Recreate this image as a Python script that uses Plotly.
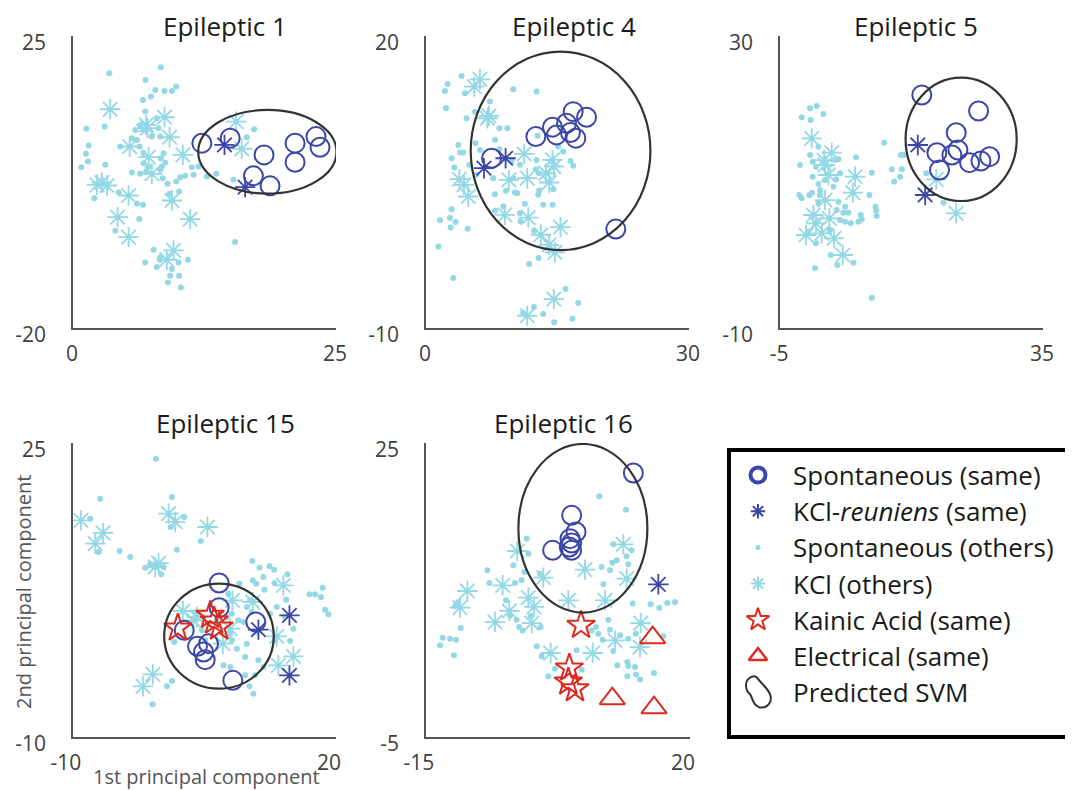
import plotly.graph_objects as go

# page body has an 8px margin; lay out in screen pixels and convert
BODY = 8
SW, SH = 1073, 790
FW, FH = SW - BODY, SH - BODY
FONT = "Open Sans"
DARK = "#3C46A9"
LIGHT = "#94D8E6"
RED = "#DC2A1F"
ELL = "#333333"


def px(x):
    return (x - BODY) / FW


def py(y):
    return 1 - (y - BODY) / FH


titles = ["Epileptic 1", "Epileptic 4", "Epileptic 5", "Epileptic 15", "Epileptic 16"]
x_ranges = [[0, 25], [0, 30], [-5, 35], [-10, 20], [-15, 20]]
y_ranges = [[-20, 25], [-10, 20], [-10, 30], [-10, 25], [-5, 25]]
# SVM ellipses: x0, x1, y0, y1
svm_ellipses = [
    [11.9, 25.05, 0.7, 13.6],
    [5.1, 25.6, -2.0, 18.4],
    [14.1, 31.0, 7.4, 24.3],
    [0.4, 12.9, -4.25, 8.25],
    [-2.75, 14.35, 7.7, 24.9],
]

# ---------------- Epileptic 1 ----------------
p1_spont_same_x = [12.25, 14.94, 18.16, 21.11, 21.11, 23.10, 23.48, 17.15, 18.73]
p1_spont_same_y = [8.48, 9.25, 6.68, 8.48, 5.55, 9.50, 7.86, 3.45, 1.91]
p1_kcl_same_x = [14.4, 16.36]
p1_kcl_same_y = [8.22, 1.71]
p1_kcl_oth_x = [3.54, 8.70, 6.96, 7.09, 9.18, 5.38, 7.18, 10.44, 7.50, 16.04, 15.51, 2.28, 3.23, 2.75,
                5.28, 9.40, 4.24, 11.14, 5.28, 9.56, 8.92]
p1_kcl_oth_y = [13.71, 12.48, 11.30, 10.79, 9.40, 7.97, 6.32, 6.68, 3.76, 7.61, 11.81, 2.07, 1.96, 2.42,
                0.42, -0.35, -2.91, -3.22, -5.99, -8.04, -9.48]
p1_spont_oth_x = [3.45, 8.35, 6.90, 7.82, 8.70, 9.40, 9.81, 6.65, 7.41, 1.27, 3.01, 6.87, 7.97, 6.39, 6.71,
                  8.13, 8.29, 7.50, 6.08, 5.60, 1.49, 1.23, 1.42, 0.79, 3.07, 6.33, 6.71, 8.61, 8.35, 6.71,
                  8.77, 8.45, 5.60, 6.39, 6.96, 7.18, 8.29, 8.54, 8.99, 9.81, 10.19, 10.66, 11.46, 11.30,
                  11.93, 12.72, 13.61, 15.25, 16.52, 17.22, 2.03, 4.34, 6.08, 6.65, 6.30, 4.02, 9.18, 10.09,
                  15.41, 7.66, 6.87, 8.29, 7.97, 8.29, 10.03, 10.92, 9.40, 9.24, 10.09, 9.02, 10.25, 4.49, 5.92]
p1_spont_oth_y = [19.25, 20.18, 18.23, 16.69, 16.53, 16.53, 17.20, 15.15, 15.66, 10.69, 11.04, 13.35, 12.33,
                  11.30, 10.53, 10.79, 9.50, 9.50, 8.99, 9.25, 8.12, 6.84, 5.66, 4.78, 5.14, 7.97, 6.94, 6.94,
                  6.17, 5.40, 5.50, 4.89, 3.96, 3.76, 4.12, 4.89, 4.37, 3.09, 2.22, 2.58, 3.25, 3.45, 3.60,
                  4.78, 4.89, 3.35, 3.76, 2.84, 9.40, 10.63, 0.01, 0.89, -0.86, -1.01, -3.22, -5.02, 0.68,
                  1.04, -6.76, -7.94, -9.89, -9.12, -10.61, -9.48, -9.89, -9.48, -10.92, -11.94, -11.94,
                  -12.97, -13.74, 7.97, 10.53]

# ---------------- Epileptic 4 ----------------
p2_spont_same_x = [12.53, 14.43, 14.89, 16.03, 16.79, 18.31, 16.48, 17.09, 7.48, 21.65]
p2_spont_same_y = [9.67, 10.63, 9.84, 11.04, 12.23, 11.65, 10.08, 9.50, 7.44, 0.16]
p2_kcl_same_x = [6.61, 9.08]
p2_kcl_same_y = [6.42, 7.44]
p2_kcl_oth_x = [6.15, 5.51, 7.18, 7.0, 11.20, 14.43, 14.58, 3.80, 4.33, 4.82, 9.46, 11.55, 13.67, 14.05,
                9.0, 11.66, 15.34, 13.10, 14.05, 14.70, 14.58, 11.55]
p2_kcl_oth_y = [15.55, 14.80, 11.79, 11.55, 7.89, 7.27, 6.59, 5.29, 4.71, 3.51, 5.22, 5.39, 5.90, 4.95,
                1.63, 1.35, 0.36, -0.42, -1.45, -2.24, -7.03, -8.74]
p2_spont_oth_x = [4.06, 2.47, 2.16, 4.44, 9.95, 12.61, 2.28, 4.63, 7.29, 5.58, 8.36, 9.27, 7.86, 5.66, 6.15,
                  3.68, 3.87, 4.25, 2.92, 3.23, 4.94, 8.36, 9.76, 10.71, 12.72, 12.61, 12.53, 12.91, 15.65,
                  15.08, 16.48, 16.79, 5.70, 7.67, 9.95, 10.14, 9.12, 7.86, 10.41, 12.80, 12.91, 13.37, 14.43,
                  14.51, 7.86, 8.81, 10.71, 11.28, 10.79, 12.34, 2.92, 1.60, 2.73, 3.38, 2.81, 4.75, 1.41,
                  3.11, 11.77, 12.84, 15.91, 17.36, 16.71, 14.62, 13.37, 12.31, 11.09]
p2_spont_oth_y = [15.89, 15.07, 14.36, 14.12, 14.53, 14.29, 12.58, 11.55, 13.26, 12.23, 10.52, 10.52, 9.33,
                  8.98, 8.30, 8.81, 8.03, 8.03, 7.44, 6.49, 6.76, 8.37, 7.10, 6.76, 9.74, 7.27, 6.32, 5.90,
                  8.13, 8.64, 7.17, 6.66, 5.73, 5.39, 5.39, 3.92, 4.09, 3.75, 3.85, 3.68, 4.13, 2.65, 2.65,
                  4.26, 2.04, 2.48, 1.80, 2.76, 0.94, -0.01, 2.21, 1.08, 1.29, 0.88, 0.33, 0.19, -1.62, -4.87,
                  -3.43, -2.82, -6.0, -7.44, -9.05, -9.42, -8.57, -7.85, -8.46]

# ---------------- Epileptic 5 ----------------
p3_spont_same_x = [16.57, 25.20, 21.80, 18.86, 21.14, 22.06, 23.83, 25.56, 26.88, 19.26]
p3_spont_same_y = [21.92, 19.73, 16.76, 14.02, 13.70, 14.38, 12.65, 12.88, 13.47, 11.64]
p3_kcl_same_x = [15.96, 17.08]
p3_kcl_same_y = [15.07, 8.22]
p3_kcl_oth_x = [-0.18, 2.87, 1.70, 1.85, 2.36, 6.42, 6.07, 1.85, 0.08, 2.51, 0.48, -1.04, 1.35, 3.22, 4.54,
                18.76, 21.80]
p3_kcl_oth_y = [15.98, 14.02, 13.01, 12.33, 10.96, 10.73, 8.54, 7.53, 5.48, 5.02, 4.34, 2.74, 2.97, 2.28, 0.0,
                10.37, 5.71]
p3_spont_oth_x = [-0.43, 0.58, -1.70, -0.33, 1.60, 0.84, -0.43, -1.95, -0.03, 0.48, 3.38, 3.88, 6.57, -0.03,
                  0.84, 4.14, 3.53, -2.06, -1.70, -0.53, -0.13, 1.09, 1.09, 3.88, 4.90, 5.41, 4.64, 4.14, 4.90,
                  5.76, 7.28, 6.93, 7.44, 8.60, 9.52, 9.62, 9.72, 8.96, 10.84, 12.01, 13.27, 13.53, 12.36,
                  13.38, 13.78, 17.23, 19.87, 0.33, 3.73, 6.17, 2.72, 8.96, 3.63, 0.48, -0.69, 2.61, 0.84,
                  3.12, 1.85]
p3_spont_oth_y = [20.09, 20.41, 18.86, 18.49, 19.32, 14.84, 13.70, 12.33, 12.79, 12.10, 13.01, 13.11, 13.38,
                  10.73, 9.73, 11.19, 10.37, 8.22, 7.76, 8.22, 8.54, 8.90, 8.22, 7.31, 6.62, 5.80, 5.80, 4.79,
                  4.57, 4.34, 5.48, 4.57, 4.89, 8.22, 6.62, 6.07, 5.34, 11.28, 15.39, 11.74, 10.73, 11.74,
                  10.05, 13.70, 13.70, 11.19, 7.17, -1.83, -1.37, -1.05, 0.0, -5.84, 6.16, 1.60, 3.20, 3.42,
                  7.08, 9.36, 10.27]

# ---------------- Epileptic 15 ----------------
p4_spont_same_x = [6.67, 6.67, 10.85, 2.69, 4.20, 5.46, 5.08, 8.23, 4.89]
p4_spont_same_y = [8.33, 5.40, 3.69, 2.70, 0.79, 1.11, -0.79, -3.25, 0.12]
p4_kcl_same_x = [14.69, 11.15, 14.69]
p4_kcl_same_y = [4.48, 2.78, -2.66]
p4_kainic_x = [1.96, 5.65, 6.67, 6.1]
p4_kainic_y = [2.98, 4.48, 3.10, 3.8]
p4_kcl_oth_x = [-9.09, -6.58, -7.46, 0.90, 1.66, 5.34, -0.24, -0.62, 14.0, 8.19, 2.53, 4.13, 10.51, 13.24,
                7.09, 15.14, 13.43, -0.89, -2.02, 7.93, 3.75]
p4_kcl_oth_y = [15.79, 14.29, 13.02, 16.59, 15.60, 15.0, 10.71, 10.24, 8.06, 6.27, 5.0, 4.29, 6.07, 1.98,
                1.11, -0.40, -1.47, -2.54, -3.97, 2.90, 3.89]
p4_spont_oth_x = [-0.54, -6.89, 1.28, -8.03, -7.08, -4.68, -3.47, -1.76, -1.19, 0.06, 0.33, 1.85, 2.69, 1.17,
                  4.58, 10.47, 11.27, 12.41, 12.94, 10.51, 10.89, 11.72, 12.98, 14.46, 11.84, 8.99, 16.97,
                  17.61, 18.48, 18.29, 18.75, 19.13, 14.31, 13.24, 15.14, 14.76, 14.19, 13.05, 9.83, 10.39,
                  9.45, 8.88, 7.74, 8.12, 7.93, 7.55, 4.70, 1.55, 3.94, 5.08, 8.69, 9.64, 10.96, 9.83, 11.15,
                  11.72, 9.64, 10.77, 10.13, 10.58, 7.17, 7.93, 0.71, 1.28, -0.92, 8.12, 6.41, 10.20, 12.48]
p4_spont_oth_y = [23.13, 18.37, 18.57, 15.99, 12.02, 12.14, 11.43, 10.16, 10.56, 9.37, 10.24, 12.30, 16.19,
                  15.0, 13.33, 10.95, 10.16, 10.32, 9.92, 8.65, 8.25, 9.05, 8.33, 9.37, 7.54, 8.25, 6.98, 6.98,
                  7.78, 6.67, 5.16, 4.60, 6.35, 5.48, 2.90, 1.43, 4.29, 1.51, 5.48, 4.88, 3.69, 3.89, 7.06,
                  4.68, 2.30, 4.29, 2.70, 1.31, 4.88, 1.51, 0.52, -0.48, 2.50, 1.11, -0.87, -1.67, -2.66,
                  -2.66, -3.97, -4.84, -1.47, -1.67, -3.97, -3.33, -6.11, 1.51, 3.89, 6.27, 4.68]

# ---------------- Epileptic 16 ----------------
p5_spont_same_x = [12.49, 4.31, 4.89, 4.09, 4.31, 4.0, 4.31, 1.79]
p5_spont_same_y = [21.94, 17.62, 15.92, 15.24, 14.80, 14.39, 14.05, 14.05]
p5_kcl_same_x = [15.80]
p5_kcl_same_y = [10.58]
p5_kainic_x = [5.55, 4.0, 3.87, 4.75]
p5_kainic_y = [6.39, 2.04, 0.61, -0.07]
p5_elec_x = [15.05, 9.70, 15.23]
p5_elec_y = [5.14, -1.09, -2.01]
p5_kcl_oth_x = [-2.89, -9.52, -10.49, -5.85, -4.84, -3.95, -1.43, -0.68, -0.99, 0.55, 6.08, 3.87, 8.73,
                11.16, 11.60, 13.46, 13.37, 10.06, 7.09, 1.53]
p5_kcl_oth_y = [13.98, 9.90, 8.20, 6.73, 10.48, 7.86, 9.22, 8.27, 6.63, 11.26, 12.07, 8.95, 8.95, 14.66,
                11.16, 6.63, 4.18, 4.86, 3.57, 3.57]
p5_spont_oth_x = [7.98, 11.51, 9.83, 11.60, 11.82, 8.29, 9.39, 9.70, 8.51, -6.87, -6.60, -3.20, -3.42, -1.65,
                  -1.43, -1.96, -2.32, 0.11, -4.39, -3.86, -2.98, -2.63, -2.19, -1.12, 0.20, -0.33, 0.33, 2.10,
                  1.22, 4.97, 5.64, 6.96, 7.54, 7.85, 8.42, 9.17, 9.39, 10.72, 11.82, 12.84, 14.78, 15.93,
                  16.99, 18.01, 16.46, 9.83, 10.36, 11.69, 11.82, 12.71, 12.84, 13.37, 11.69, 15.23, -10.71,
                  -11.16, -12.79, -11.82, -11.02, -13.14, -11.29, -10.40, 10.28, 12.26, 12.40]
p5_spont_oth_y = [19.56, 18.20, 14.66, 13.44, 12.62, 12.35, 12.01, 12.79, 10.58, 12.01, 10.71, 10.71, 12.52,
                  15.24, 13.71, 11.84, 10.99, 11.67, 8.95, 7.41, 6.97, 6.22, 5.88, 7.31, 6.22, 4.25, 3.23,
                  1.97, 1.19, 3.84, 1.87, 5.88, 6.22, 5.54, 4.93, 6.97, 5.95, 5.37, 5.03, 5.54, 8.54, 8.20,
                  8.67, 8.78, 5.27, 3.78, 2.31, 2.65, 2.24, 2.14, 1.39, 0.88, 1.19, 1.53, 8.78, 8.33, 5.14,
                  5.03, 4.93, 4.35, 3.33, 6.12, 13.03, 14.05, 8.61]

panels = [
    dict(dots=(p1_spont_oth_x, p1_spont_oth_y), kclo=(p1_kcl_oth_x, p1_kcl_oth_y),
         circ=(p1_spont_same_x, p1_spont_same_y), kcls=(p1_kcl_same_x, p1_kcl_same_y)),
    dict(dots=(p2_spont_oth_x, p2_spont_oth_y), kclo=(p2_kcl_oth_x, p2_kcl_oth_y),
         circ=(p2_spont_same_x, p2_spont_same_y), kcls=(p2_kcl_same_x, p2_kcl_same_y)),
    dict(dots=(p3_spont_oth_x, p3_spont_oth_y), kclo=(p3_kcl_oth_x, p3_kcl_oth_y),
         circ=(p3_spont_same_x, p3_spont_same_y), kcls=(p3_kcl_same_x, p3_kcl_same_y)),
    dict(dots=(p4_spont_oth_x, p4_spont_oth_y), kclo=(p4_kcl_oth_x, p4_kcl_oth_y),
         circ=(p4_spont_same_x, p4_spont_same_y), kcls=(p4_kcl_same_x, p4_kcl_same_y),
         kain=(p4_kainic_x, p4_kainic_y)),
    dict(dots=(p5_spont_oth_x, p5_spont_oth_y), kclo=(p5_kcl_oth_x, p5_kcl_oth_y),
         circ=(p5_spont_same_x, p5_spont_same_y), kcls=(p5_kcl_same_x, p5_kcl_same_y),
         kain=(p5_kainic_x, p5_kainic_y), elec=(p5_elec_x, p5_elec_y)),
]

# screen-pixel boxes of panels: left, right, top, bottom
boxes = [(73, 336, 36, 328), (426, 689, 36, 328), (780, 1043, 36, 328),
         (73, 336, 443, 737), (426, 690, 443, 737)]
title_pos = [(225, 26), (574, 26), (916, 26), (225, 423), (563, 423)]
xlabel_shift = [-1, -1, -1, -7, -7]

styles = {
    "dots": dict(symbol="circle", size=6, color=LIGHT, line=dict(width=0)),
    "kclo": dict(symbol="asterisk-open", size=17, color=LIGHT, line=dict(width=1.8, color=LIGHT)),
    "circ": dict(symbol="circle-open", size=19, color=DARK, line=dict(width=2, color=DARK)),
    "kcls": dict(symbol="asterisk-open", size=17, color=DARK, line=dict(width=1.8, color=DARK)),
    "kain": dict(symbol="star-open", size=21, color=RED, line=dict(width=2, color=RED)),
    "elec": dict(symbol="triangle-up-open", size=22, color=RED, line=dict(width=2, color=RED)),
}

fig = go.Figure()
annotations = []
shapes = []

for i, p in enumerate(panels):
    n = i + 1
    xa = "x" if n == 1 else f"x{n}"
    ya = "y" if n == 1 else f"y{n}"
    for key in ["dots", "kclo", "circ", "kcls", "kain", "elec"]:
        if key in p:
            xs, ys = p[key]
            fig.add_trace(go.Scatter(x=xs, y=ys, mode="markers", marker=styles[key],
                                     xaxis=xa, yaxis=ya, hoverinfo="skip", cliponaxis=False))
    l, r, t, b = boxes[i]
    axkw = dict(showline=True, linecolor="#555555", linewidth=1.5, ticks="inside", ticklen=5,
                tickcolor="#555555", showgrid=False, zeroline=False, automargin=False,
                tickfont=dict(family=FONT, size=21, color="#404040"))
    xr, yr = x_ranges[i], y_ranges[i]
    fig.layout[f"xaxis{'' if n == 1 else n}"] = dict(
        domain=[px(l), px(r)], range=xr, tickvals=xr, ticktext=[str(v) for v in xr], anchor=ya,
        ticklabelstandoff=6, ticklabelshift=xlabel_shift[i], **axkw)
    fig.layout[f"yaxis{'' if n == 1 else n}"] = dict(
        domain=[py(b), py(t)], range=yr, tickvals=yr, ticktext=[str(v) for v in yr], anchor=xa,
        ticklabelstandoff=21, ticklabelshift=7, **axkw)
    e = svm_ellipses[i]
    shapes.append(dict(type="circle", xref=xa, yref=ya, x0=e[0], x1=e[1], y0=e[2], y1=e[3],
                       line=dict(color=ELL, width=2.2)))
    tx, ty = title_pos[i]
    annotations.append(dict(text=titles[i], xref="paper", yref="paper", x=px(tx), y=py(ty),
                            yanchor="middle", xanchor="center", showarrow=False,
                            font=dict(family=FONT, size=26, color="#1a1a1a")))

# axis titles
annotations.append(dict(text="1st principal component", xref="paper", yref="paper",
                        x=px(206), y=py(776), xanchor="center", yanchor="middle", showarrow=False,
                        font=dict(family=FONT, size=20, color="#555555")))
annotations.append(dict(text="2nd principal component", xref="paper", yref="paper",
                        x=px(23), y=py(592), xanchor="center", yanchor="middle", showarrow=False,
                        textangle=-90, font=dict(family=FONT, size=20, color="#555555")))

# ---------------- legend (drawn manually) ----------------
legend_labels = ["Spontaneous (same)", "KCl-<i>reuniens</i> (same)", "Spontaneous (others)",
                 "KCl (others)", "Kainic Acid (same)", "Electrical (same)", "Predicted SVM"]
legend_styles = [
    dict(symbol="circle-open", size=15, color=DARK, line=dict(width=4, color=DARK)),
    dict(symbol="asterisk-open", size=12, color=DARK, line=dict(width=2, color=DARK)),
    dict(symbol="circle", size=5, color=LIGHT, line=dict(width=0)),
    dict(symbol="asterisk-open", size=12, color=LIGHT, line=dict(width=2, color=LIGHT)),
    dict(symbol="star-open", size=17, color=RED, line=dict(width=2, color=RED)),
    dict(symbol="triangle-up-open", size=16, color=RED, line=dict(width=2.5, color=RED)),
]
LX0, LX1, LY0, LY1 = 729, 1069, 450, 737
row0, row_step = 25, 36.2
fig.layout["xaxis6"] = dict(domain=[px(LX0), px(LX1)], range=[0, LX1 - LX0], visible=False, anchor="y6",
                            automargin=False)
fig.layout["yaxis6"] = dict(domain=[py(LY1), py(LY0)], range=[LY1 - LY0, 0], visible=False,
                            anchor="x6", automargin=False)
for k, st in enumerate(legend_styles):
    fig.add_trace(go.Scatter(x=[29], y=[row0 + k * row_step], mode="markers", marker=st,
                             xaxis="x6", yaxis="y6", hoverinfo="skip", cliponaxis=False))
for k, lab_ in enumerate(legend_labels):
    annotations.append(dict(text=lab_, xref="x6", yref="y6", x=62, y=row0 + k * row_step,
                            xanchor="left", yanchor="middle", showarrow=False,
                            font=dict(family=FONT, size=26, color="#1a1a1a")))
# bean-shaped SVM legend icon
ys = row0 + 6 * row_step
bean = (f"M 22,{ys-15} C 15,{ys-12} 16,{ys-2} 21,{ys+2} C 24,{ys+6} 23,{ys+12} 30,{ys+15} "
        f"C 38,{ys+17} 44,{ys+10} 41,{ys+2} C 38,{ys-5} 33,{ys-8} 30,{ys-12} C 28,{ys-16} 25,{ys-17} 22,{ys-15} Z")
shapes.append(dict(type="path", xref="x6", yref="y6", path=bean, line=dict(color=ELL, width=2)))
shapes.append(dict(type="rect", xref="paper", yref="paper", x0=px(LX0), x1=px(LX1),
                   y0=py(LY1), y1=py(LY0), line=dict(color="black", width=4)))

fig.update_layout(width=FW, height=FH, margin=dict(l=0, r=0, t=0, b=0, autoexpand=False), showlegend=False,
                  paper_bgcolor="white", plot_bgcolor="white", annotations=annotations, shapes=shapes,
                  font=dict(family=FONT))
fig.write_html("out.html")
